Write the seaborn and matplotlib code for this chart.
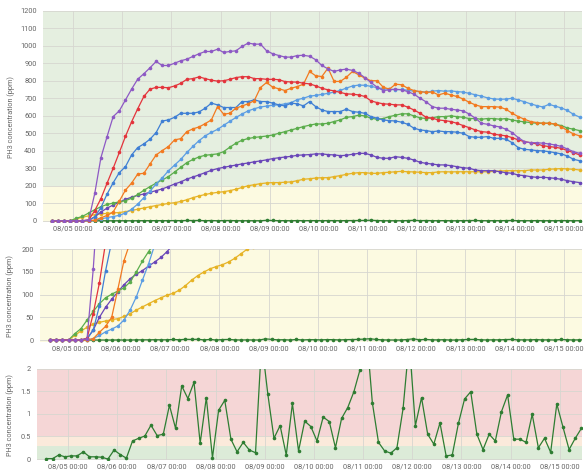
import numpy as np
import pandas as pd
import seaborn as sns
import matplotlib
matplotlib.use("Agg")
import matplotlib.pyplot as plt
import matplotlib.dates as mdates

# readings every 3 hours, 08/04 13:30 -> 08/15 10:30
times = pd.date_range("2021-08-04 13:30", periods=88, freq="3h")

purple_top = [0, 0, 0, 0, 0, 0, 3, 156,
              360, 480, 595, 628, 690, 752, 809, 840,
              874, 910, 887, 887, 900, 914, 923, 939,
              954, 967, 967, 980, 962, 967, 971, 996,
              1015, 1009, 1009, 971, 954, 944, 935, 935,
              944, 945, 940, 920, 887, 868, 853, 862,
              866, 859, 843, 818, 790, 763, 744, 748,
              752, 748, 738, 723, 700, 679, 652, 643,
              643, 637, 633, 628, 610, 586, 557, 551,
              542, 536, 523, 504, 475, 452, 446, 446,
              443, 439, 433, 425, 410, 395, 385, 380]
red = [0, 0, 0, 0, 0, 0, 4, 58,
       126, 214, 300, 390, 482, 565, 640, 710,
       752, 762, 762, 760, 770, 785, 808, 812,
       822, 812, 803, 798, 800, 808, 818, 823,
       823, 812, 812, 808, 808, 806, 795, 793,
       792, 786, 782, 771, 757, 748, 742, 733,
       725, 723, 719, 710, 685, 675, 668, 666,
       662, 662, 649, 633, 614, 591, 586, 576,
       572, 567, 557, 544, 532, 519, 509, 506,
       494, 490, 485, 475, 462, 452, 446, 439,
       429, 424, 420, 414, 401, 389, 376, 368]
orange = [0, 0, 0, 0, 0, 0, 0, 3,
          17, 30, 50, 112, 175, 215, 267, 271,
          324, 376, 401, 424, 462, 469, 509, 525,
          536, 555, 576, 652, 609, 614, 643, 656,
          668, 687, 761, 790, 763, 754, 744, 757,
          767, 780, 853, 828, 824, 872, 796, 796,
          820, 853, 834, 815, 800, 800, 763, 752,
          780, 777, 757, 744, 738, 733, 736, 719,
          729, 719, 710, 696, 677, 662, 652, 652,
          652, 649, 637, 614, 595, 580, 567, 561,
          557, 557, 553, 538, 515, 496, 485, 478]
blue = [0, 0, 0, 0, 0, 0, 3, 22,
        75, 152, 217, 275, 309, 376, 418, 439,
        466, 504, 570, 576, 591, 614, 614, 614,
        622, 643, 672, 662, 647, 647, 647, 681,
        681, 691, 681, 681, 672, 662, 656, 672,
        668, 656, 681, 652, 633, 624, 624, 624,
        637, 624, 620, 614, 595, 586, 576, 572,
        570, 563, 551, 529, 519, 515, 509, 513,
        509, 509, 506, 500, 481, 477, 477, 481,
        471, 471, 466, 446, 418, 408, 405, 401,
        399, 395, 389, 382, 370, 351, 343, 338]
light_blue = [0, 0, 0, 0, 0, 0, 0, 3,
              10, 18, 24, 31, 44, 66, 95, 132,
              168, 210, 245, 285, 318, 350, 390, 425,
              458, 485, 505, 522, 545, 568, 590, 610,
              628, 640, 650, 655, 660, 662, 668, 675,
              692, 700, 712, 716, 722, 728, 735, 745,
              758, 770, 775, 774, 768, 760, 755, 752,
              748, 750, 746, 740, 738, 735, 740, 744,
              740, 742, 738, 735, 728, 720, 712, 702,
              696, 694, 695, 700, 690, 680, 668, 658,
              650, 665, 655, 645, 630, 608, 592, 585]
green = [0, 0, 0, 0, 14, 25, 44, 63,
         80, 93, 101, 108, 115, 128, 150, 174,
         195, 215, 233, 252, 278, 305, 332, 350,
         365, 374, 378, 382, 395, 420, 443, 460,
         470, 476, 480, 484, 490, 500, 509, 519,
         528, 538, 546, 553, 553, 557, 567, 576,
         591, 595, 603, 599, 586, 580, 584, 595,
         603, 611, 611, 599, 588, 584, 588, 595,
         595, 599, 595, 591, 584, 584, 580, 584,
         584, 580, 584, 576, 569, 565, 561, 557,
         557, 557, 551, 544, 530, 523, 515, 510]
purple_low = [0, 0, 0, 0, 0, 0, 3, 22,
              50, 72, 90, 106, 122, 135, 145, 153,
              163, 172, 182, 195, 210, 222, 238, 250,
              262, 275, 288, 298, 305, 312, 318, 325,
              330, 337, 342, 348, 355, 360, 364, 368,
              374, 376, 378, 382, 382, 378, 376, 372,
              374, 380, 385, 385, 376, 362, 357, 357,
              366, 362, 357, 347, 334, 328, 324, 319,
              319, 315, 309, 303, 300, 290, 286, 286,
              286, 280, 275, 271, 261, 258, 252, 248,
              248, 246, 242, 237, 229, 223, 218, 215]
yellow = [0, 0, 0, 0, 10, 20, 28, 35,
          39, 42, 45, 47, 52, 58, 66, 73,
          80, 87, 93, 99, 103, 110, 120, 132,
          142, 150, 157, 162, 166, 172, 180, 190,
          200, 206, 212, 216, 218, 218, 220, 222,
          229, 237, 240, 244, 246, 246, 252, 258,
          265, 271, 275, 275, 271, 271, 275, 277,
          280, 282, 280, 279, 277, 275, 275, 279,
          280, 279, 280, 280, 280, 280, 280, 280,
          282, 284, 286, 286, 286, 286, 290, 290,
          290, 294, 296, 298, 296, 294, 290, 290]
dark_green = [0.01, 0.01, 0.09, 0.05, 0.07, 0.07, 0.16, 0.05,
              0.05, 0.04, 0.0, 0.2, 0.1, 0.02, 0.40, 0.46,
              0.51, 0.75, 0.52, 0.55, 1.19, 0.68, 1.62, 1.34,
              1.70, 0.35, 1.36, 0.03, 1.08, 1.30, 0.44, 0.16,
              0.37, 0.2, 0.14, 2.6, 1.44, 0.46, 0.74, 0.09,
              1.23, 0.18, 0.84, 0.72, 0.40, 0.93, 0.83, 0.25,
              0.90, 1.14, 1.49, 1.98, 2.9, 1.25, 0.37, 0.18,
              0.13, 0.25, 1.12, 2.6, 0.74, 1.36, 0.55, 0.33,
              0.80, 0.07, 0.09, 0.79, 1.33, 1.49, 0.55, 0.21,
              0.55, 0.40, 1.05, 1.42, 0.44, 0.44, 0.37, 0.99,
              0.25, 0.46, 0.15, 1.22, 0.71, 0.21, 0.46, 0.68]

series = {
    "dark_green": dark_green, "yellow": yellow, "purple_low": purple_low,
    "green": green, "light_blue": light_blue, "blue": blue,
    "orange": orange, "red": red, "purple_top": purple_top,
}
colors = {
    "dark_green": "#2e7d32", "yellow": "#e6b325", "purple_low": "#6a47b8",
    "green": "#5bad4c", "light_blue": "#5b9de3", "blue": "#3f7fd4",
    "orange": "#f27a20", "red": "#e3343c", "purple_top": "#8d59c4",
}

df = pd.DataFrame({
    "time": np.tile(times, len(series)),
    "ppm": np.concatenate([series[k] for k in series]),
    "sensor": np.repeat(list(series.keys()), len(times)),
})

plt.rcParams["font.family"] = ["Roboto", "DejaVu Sans"]
fig = plt.figure(figsize=(5.84, 4.70), dpi=100)

base = pd.Timestamp("2021-08-05")


def panel(rect, data, ylim, yticks, ylabels, bands, xl, labx):
    ax = fig.add_axes(rect)
    for lo, hi, c in bands:
        ax.axhspan(lo, hi, color=c, zorder=0, lw=0)
    sns.lineplot(data=data, x="time", y="ppm", hue="sensor", palette=colors,
                 hue_order=[k for k in series if k in set(data["sensor"])],
                 marker="o", markersize=2.6, markeredgewidth=0, linewidth=0.9,
                 legend=False, ax=ax, zorder=3)
    ax.set_xlim((base + pd.Timedelta(days=xl[0])).to_pydatetime(),
                (base + pd.Timedelta(days=xl[1])).to_pydatetime())
    ax.set_ylim(*ylim)
    ax.set_yticks(yticks)
    ax.set_yticklabels(ylabels)
    ax.xaxis.set_major_locator(mdates.DayLocator())
    ax.xaxis.set_major_formatter(mdates.DateFormatter("%m/%d %H:%M"))
    ax.grid(True, color="#d6d6d0", lw=0.6, zorder=1)
    ax.set_axisbelow(True)
    for s in ax.spines.values():
        s.set_visible(False)
    ax.tick_params(length=0, labelsize=5.3, colors="#666666", pad=2.5)
    ax.tick_params(axis="y", pad=4.5)
    ax.set_xlabel("")
    ax.set_ylabel("PH3 concentration (ppm)", fontsize=5.2, color="#666666")
    ax.yaxis.set_label_coords(labx, 0.5)
    return ax


green_bg = "#e5efe0"
yellow_bg = "#fcfae1"

panel([0.0736, 0.5266, 0.9229, 0.4506], df, (-10, 1200),
      list(range(0, 1201, 100)), [str(v) for v in range(0, 1201, 100)],
      [(-10, 200, yellow_bg), (200, 1200, green_bg)], (-0.617, 10.36), -0.051)

panel([0.0685, 0.2717, 0.9281, 0.1979], df, (-5, 200),
      [0, 50, 100, 150, 200], ["0", "50", "100", "150", "200"],
      [(-5, 200, yellow_bg)], (-0.644, 10.37), -0.048)

panel([0.0634, 0.0204, 0.9332, 0.1951], df[df["sensor"] == "dark_green"],
      (-0.03, 2), [0, 0.5, 1, 1.5, 2], ["0", "0.5", "1", "1.5", "2"],
      [(-0.03, 0.3, "#dcebd8"), (0.3, 0.5, "#fbeadb"), (0.5, 2, "#f5d6d6")],
      (-0.629, 10.45), -0.043)

fig.savefig("out.png", dpi=100)
